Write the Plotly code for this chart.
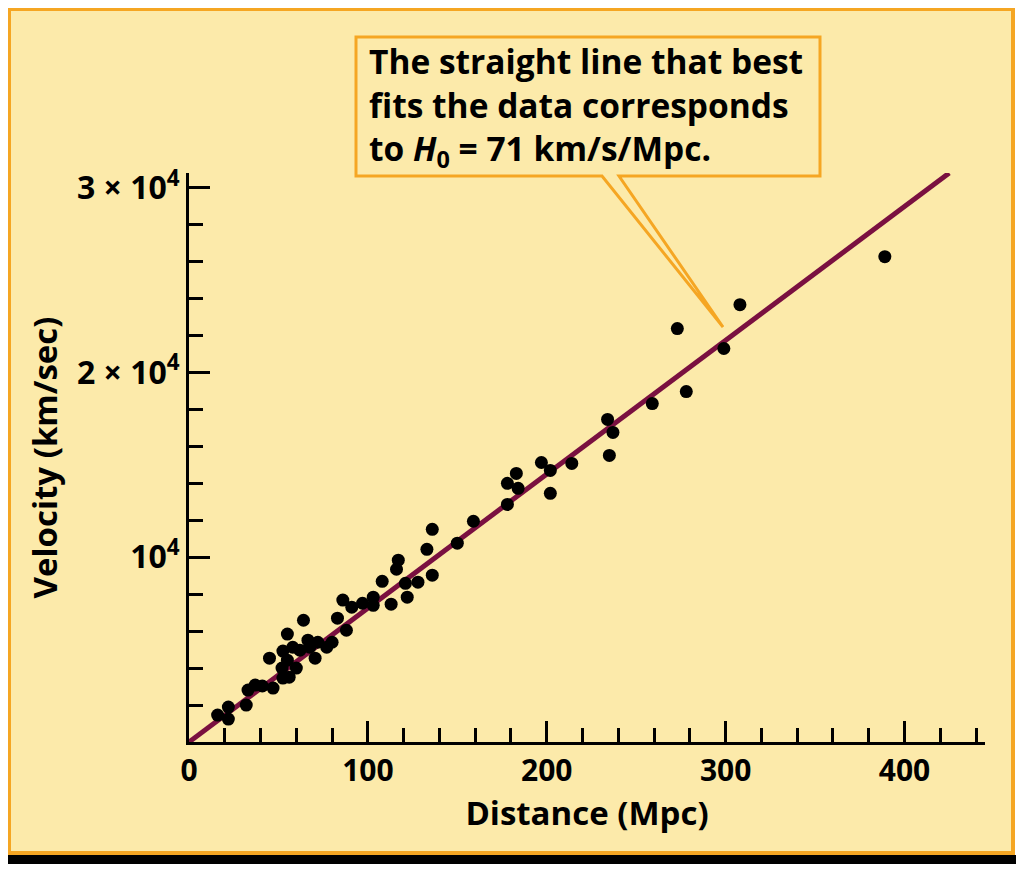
import plotly.graph_objects as go

# ---- data ----
distance_mpc = [16, 22, 22, 32, 33, 37, 41, 47, 45, 52.5, 55, 64, 52, 55, 56, 52.5,
                60, 58, 62, 66.5, 67.5, 70.5, 72, 77, 80, 83, 86, 88,
                91, 97, 103, 103, 108, 113, 116, 117, 121, 122, 128, 133, 136, 136,
                150, 159, 178, 178, 183, 184, 197, 202, 202, 214,
                234, 237, 235, 259, 278, 273, 299, 308, 389]
velocity_kms = [1460, 1890, 1240, 2000, 2810, 3080, 3030, 2920, 4540, 4920, 5840, 6590, 4000, 4430, 3510, 3460,
                4000, 5130, 4970, 5510, 5130, 4540, 5400, 5130, 5400, 6700, 7680, 6050,
                7300, 7510, 7840, 7400, 8700, 7460, 9350, 9840, 8590, 7840, 8650, 10430, 9030, 11510,
                10760, 11950, 12860, 14000, 14540, 13730, 15130, 14700, 13460, 15080,
                17460, 16760, 15510, 18320, 18970, 22380, 21300, 23670, 26270]

fit_x = [0, 425]
fit_y = [0, 30800]

x_tickvals = [0, 100, 200, 300, 400]
y_tickvals = [10000, 20000, 30000]
y_ticktext = ["10<sup>4</sup>", "2 × 10<sup>4</sup>", "3 × 10<sup>4</sup>"]

# ---- layout geometry (page pixels; the page body has an 8px margin) ----
OFF = 8
W, H = 1024 - OFF, 870 - OFF
L, R, T, B = 189, 985, 173, 742
pw, ph = R - L, B - T

def px(x):
    return (x - L) / pw

def py(y):
    return (B - y) / ph

BG = "#FCEAAA"
ORANGE = "#F5A623"
FONT = "Open Sans"

fig = go.Figure()
fig.add_trace(go.Scatter(x=fit_x, y=fit_y, mode="lines",
                         line=dict(color="#7A1040", width=5),
                         hoverinfo="skip", showlegend=False))
fig.add_trace(go.Scatter(x=distance_mpc, y=velocity_kms, mode="markers",
                         marker=dict(color="black", size=13),
                         showlegend=False))

shapes = [
    # background panel with orange border
    dict(type="rect", xref="paper", yref="paper", layer="below",
         x0=px(9), x1=px(1013), y0=py(9), y1=py(853),
         fillcolor=BG, line=dict(color=ORANGE, width=4)),
    # black bar at bottom
    dict(type="rect", xref="paper", yref="paper", layer="below",
         x0=px(7), x1=px(1017), y0=py(855), y1=py(864),
         fillcolor="black", line=dict(width=0)),
    # callout box with pointer
    dict(type="path", xref="paper", yref="paper", layer="above",
         path=("M {a},{b} L {c},{b} L {c},{d} L {e},{d} L {f},{g} L {h},{d} L {a},{d} Z").format(
             a=px(356), b=py(37), c=px(820), d=py(176), e=px(619),
             f=px(723), g=py(327), h=px(602)),
         fillcolor=BG, line=dict(color=ORANGE, width=3)),
]

fig.add_annotation(xref="paper", yref="paper", x=px(367), y=py(36),
                   xanchor="left", yanchor="top", align="left", showarrow=False,
                   text="The straight line that best<br>fits the data corresponds<br>to <i>H</i><sub>0</sub> = 71 km/s/Mpc.",
                   font=dict(family=FONT, size=33.5, color="black", weight="bold"))

fig.update_layout(
    width=W, height=H,
    margin=dict(l=L - OFF, r=W - (R - OFF), t=T - OFF, b=H - (B - OFF), pad=0),
    paper_bgcolor="white", plot_bgcolor="rgba(0,0,0,0)",
    shapes=shapes,
    font=dict(family=FONT, color="black"),
    xaxis=dict(range=[0, 445], showgrid=False, zeroline=False,
               showline=True, linecolor="black", linewidth=3,
               tickmode="array", tickvals=x_tickvals,
               ticks="inside", ticklen=21, tickwidth=3, tickcolor="black",
               minor=dict(tickmode="linear", tick0=0, dtick=20, ticks="inside",
                          ticklen=14, tickwidth=3, tickcolor="black"),
               tickfont=dict(family=FONT, size=30, weight="bold"),
               title=dict(text="Distance (Mpc)", standoff=8,
                          font=dict(family=FONT, size=33, weight="bold"))),
    yaxis=dict(range=[0, 30800], showgrid=False, zeroline=False,
               showline=True, linecolor="black", linewidth=3,
               tickmode="array", tickvals=y_tickvals, ticktext=y_ticktext,
               ticks="inside", ticklen=21, tickwidth=3, tickcolor="black",
               minor=dict(tickmode="linear", tick0=0, dtick=2000, ticks="inside",
                          ticklen=14, tickwidth=3, tickcolor="black"),
               tickfont=dict(family=FONT, size=32, weight="bold"),
               title=dict(text="Velocity (km/sec)", standoff=10,
                          font=dict(family=FONT, size=33, weight="bold"))),
)

fig.write_html("out.html")
